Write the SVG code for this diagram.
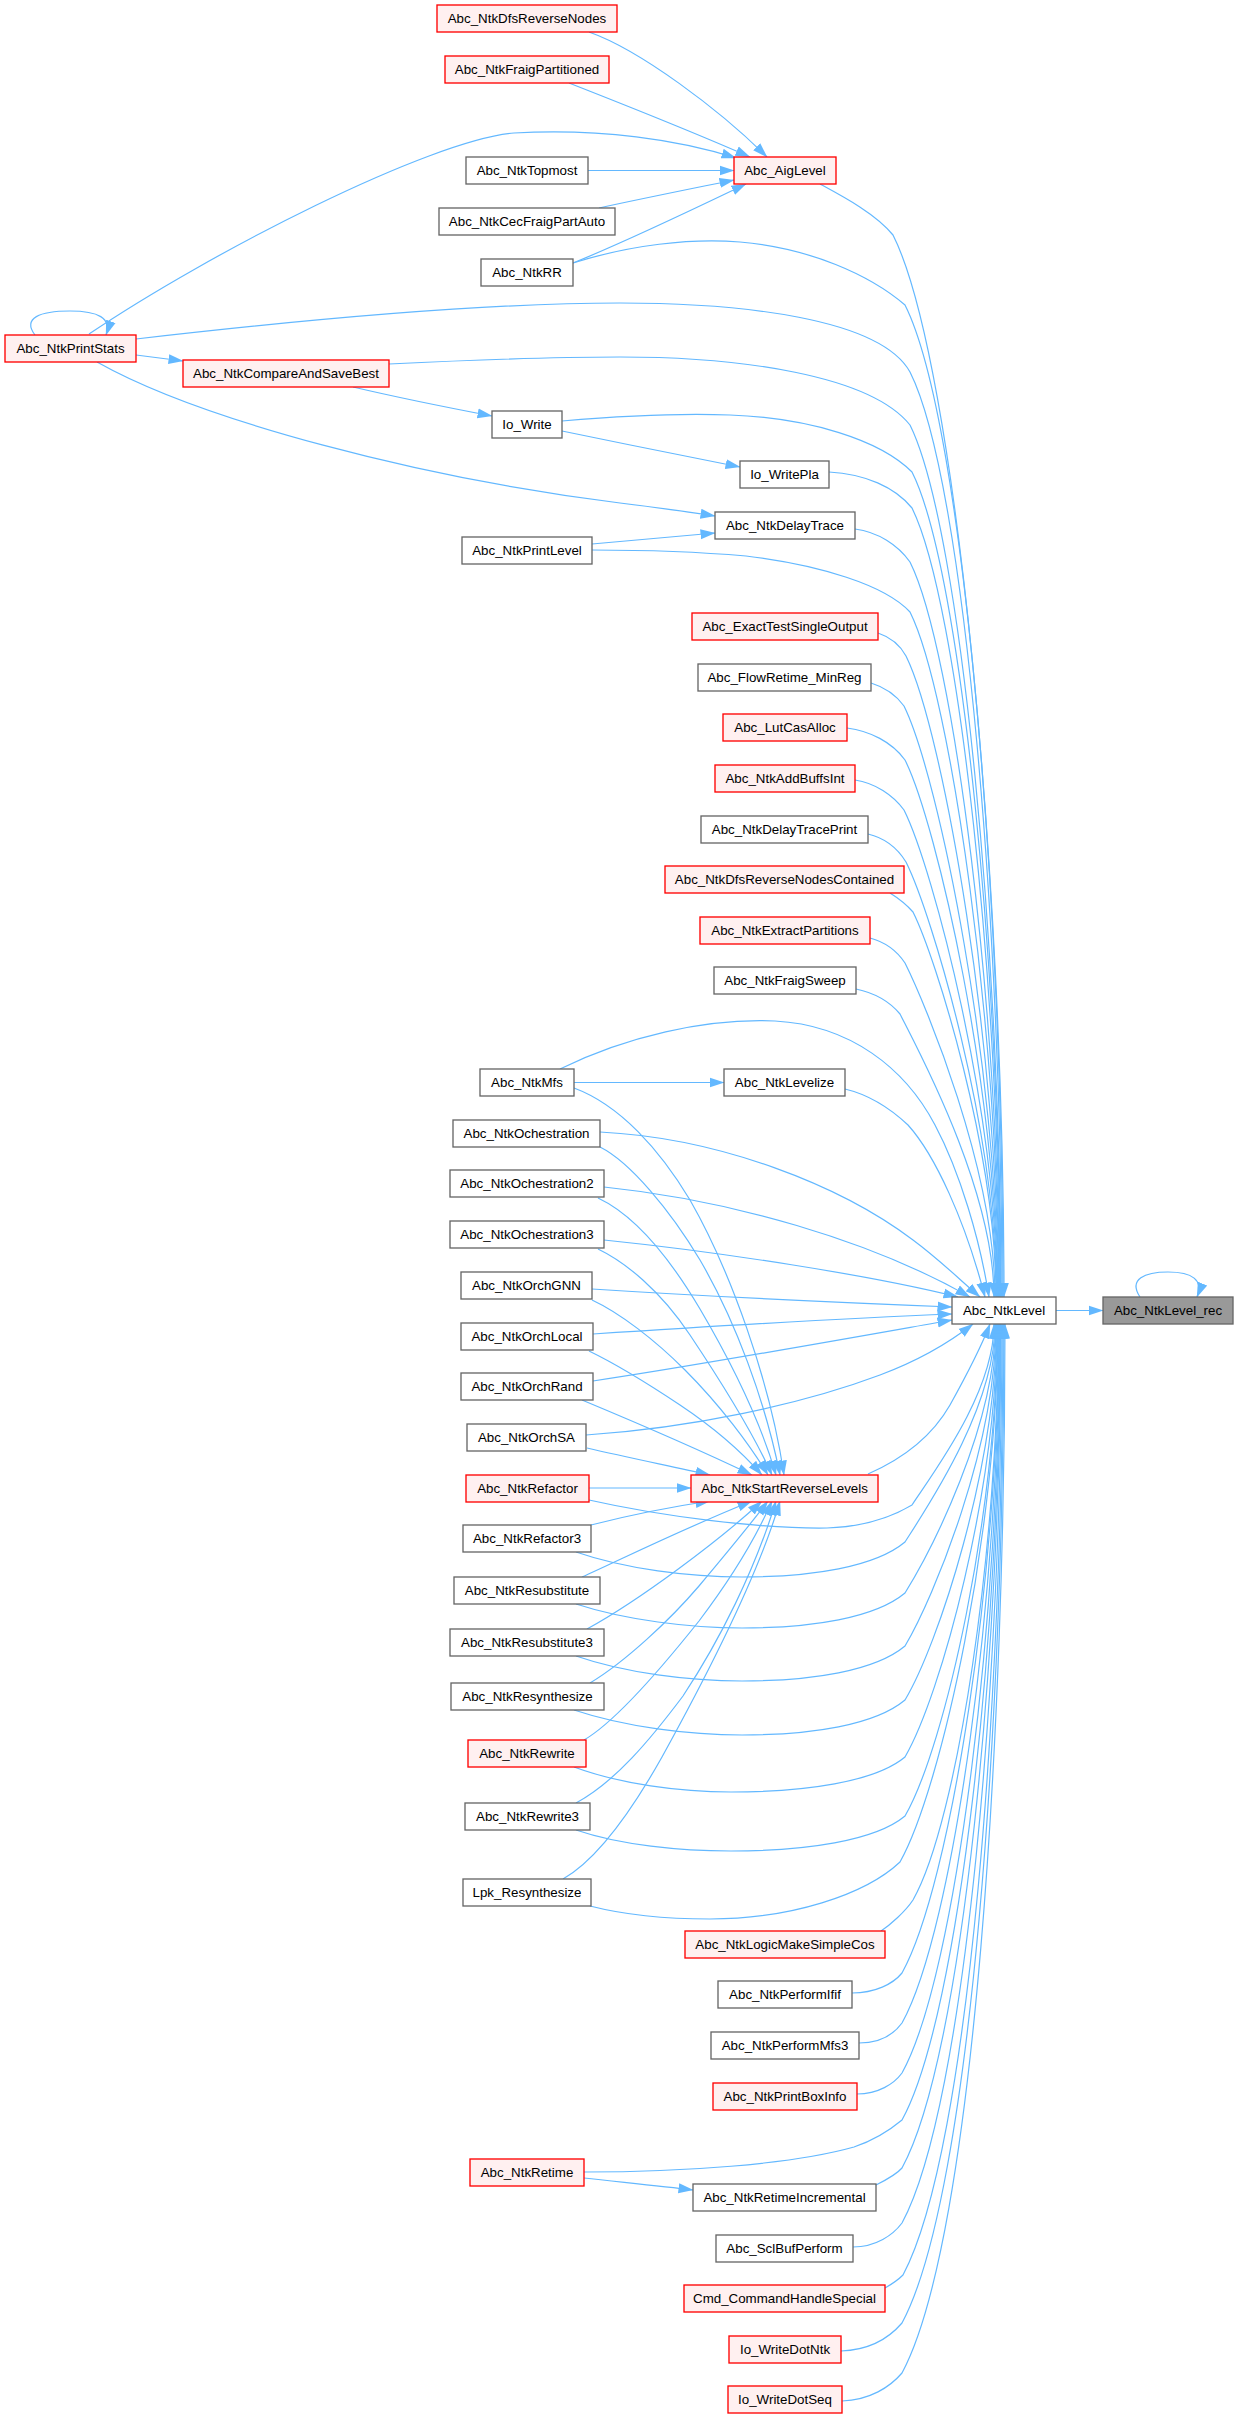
<svg xmlns="http://www.w3.org/2000/svg" width="1238" height="2419" viewBox="0 0 1238 2419">
<defs>
<style>
.r{fill:#fff0f0;stroke:#ff0000;stroke-width:1.33}
.g{fill:#ffffff;stroke:#666666;stroke-width:1.33}
.k{fill:#999999;stroke:#666666;stroke-width:1.33}
text{font-family:"Liberation Sans",Arial,Helvetica,sans-serif;font-size:13.33px;fill:#000;text-anchor:middle}
#edges path{fill:none;stroke:#63b8ff;stroke-width:1.2;marker-end:url(#ah)}
</style>
<marker id="ah" viewBox="0 0 15 11" markerWidth="15" markerHeight="11" refX="14.5" refY="5.5" orient="auto" markerUnits="userSpaceOnUse">
<path d="M0,0.5 L15,5.5 L0,10.5 z" fill="#63b8ff" stroke="none"/>
</marker>
</defs>
<rect x="0" y="0" width="1238" height="2419" fill="#ffffff"/>
<g id="edges">
<path d="M1056,1310.5 L1103,1310.5"/>
<path d="M1140,1297 C1128,1279 1145,1272 1168,1272 C1192,1272 1204,1280 1197,1297"/>
<path d="M820,184 C844,197 876,214 893,235 C957,362 1004,893 1004,1297"/>
<path d="M589,32 C640,50 720,110 767,157"/>
<path d="M569,83 C620,103 700,135 750,157"/>
<path d="M89,334 C209,253 430,140 514,133 C600,128 680,140 736,158"/>
<path d="M35,335 C22,318 40,311 70,311 C98,311 112,318 106,335"/>
<path d="M588,170.5 L734,170.5"/>
<path d="M599,208 C640,199 690,189 734,180"/>
<path d="M573,263 C630,240 700,206 746,184"/>
<path d="M573,263 C630,245 690,238 740,242 C810,248 870,275 905,305 C965,424 1003,920 1003,1297"/>
<path d="M136,339 C300,320 480,303 620,303 C740,303 880,318 910,372 C966,483 1002,946 1002,1297"/>
<path d="M389,364 C470,360 550,357 620,357 C740,357 870,375 910,425 C962,530 1001,966 1001,1297"/>
<path d="M353,387 C400,398 450,408 492,416"/>
<path d="M136,355 L183,361"/>
<path d="M562,421 C620,416 680,413 730,415 C810,418 880,440 912,472 C962,571 1000.5,984 1000.5,1297"/>
<path d="M562,431 C620,443 690,457 740,467"/>
<path d="M97,362 C200,420 420,478 620,503 C660,508 690,512 715,516"/>
<path d="M592,544 C640,540 680,536 715,533"/>
<path d="M592,550 C650,550 700,552 746,556 C820,565 885,585 910,612 C951,694 999,1037 999,1297"/>
<path d="M829,472 C865,474 895,487 912,508 C959,603 1000,997 1000,1297"/>
<path d="M855,529 C878,532 898,545 910,562 C954,650 999.5,1018 999.5,1297"/>
<path d="M878,633 C890,637 900,645 906,656 C944,733 998.5,1053 998.5,1297"/>
<path d="M871,683 C884,687 896,695 904,706 C939,777 998,1072 998,1297"/>
<path d="M847,728 C870,731 892,742 905,760 C937,824 997.5,1093 997.5,1297"/>
<path d="M855,780 C875,783 893,795 904,810 C933,868 997,1112 997,1297"/>
<path d="M868,834 C885,838 898,849 906,862 C932,914 996.5,1132 996.5,1297"/>
<path d="M890,893 C898,898 906,904 913,912 C936,958 996,1151 996,1297"/>
<path d="M870,938 C885,942 897,951 905,963 C925,1003 995,1170 995,1297"/>
<path d="M856,989 C875,993 890,1002 900,1014 C917,1048 994,1189 994,1297"/>
<path d="M560,1069 C625,1037 705,1018 775,1021 C850,1025 905,1068 935,1125 C960,1172 980,1240 989,1297"/>
<path d="M574,1082.5 L724,1082.5"/>
<path d="M845,1089 C870,1095 892,1110 908,1125 C935,1155 965,1220 985,1297"/>
<path d="M600,1132 C720,1138 840,1185 913,1240 C940,1260 960,1280 980,1297"/>
<path d="M604,1187 C730,1200 870,1240 970,1297"/>
<path d="M604,1240 C720,1252 870,1275 958,1297"/>
<path d="M592,1289 C700,1296 850,1303 952,1307"/>
<path d="M593,1334 C700,1327 850,1318 952,1314"/>
<path d="M593,1381 C700,1365 850,1338 952,1320"/>
<path d="M586,1435 C690,1428 800,1405 880,1375 C920,1360 950,1342 973,1324"/>
<path d="M868,1474 C900,1460 930,1440 950,1405 C965,1378 980,1350 990,1324"/>
<path d="M574,1088 C620,1105 660,1150 690,1200 C730,1270 770,1380 784,1475"/>
<path d="M600,1147 C630,1162 670,1210 700,1260 C735,1320 765,1400 780,1475"/>
<path d="M598,1198 C630,1213 665,1250 700,1309 C730,1360 760,1420 776,1475"/>
<path d="M598,1249 C625,1262 660,1290 690,1335 C720,1380 752,1430 772,1475"/>
<path d="M592,1300 C620,1313 655,1340 685,1370 C720,1405 750,1445 768,1475"/>
<path d="M589,1351 C620,1366 650,1385 680,1405 C710,1425 740,1450 762,1475"/>
<path d="M582,1400 C630,1420 700,1450 752,1475"/>
<path d="M587,1448 C630,1458 670,1466 710,1475"/>
<path d="M589,1488 L691,1488"/>
<path d="M591,1525 C630,1515 670,1507 710,1501"/>
<path d="M582,1577 C620,1560 680,1530 752,1501"/>
<path d="M587,1629 C640,1600 720,1540 762,1501"/>
<path d="M590,1683 C625,1662 670,1620 699,1586 C725,1555 750,1525 768,1501"/>
<path d="M584,1740 C615,1722 660,1670 699,1621 C730,1580 755,1540 772,1501"/>
<path d="M576,1803 C615,1782 650,1740 683,1696 C720,1640 755,1570 776,1501"/>
<path d="M563,1879 C600,1858 635,1805 662,1757 C710,1670 760,1570 780,1501"/>
<path d="M589,1500 C660,1516 760,1529 827,1528 C860,1527 890,1518 912,1505 C933,1473 994,1393 994,1324"/>
<path d="M576,1552 C625,1569 690,1577 742,1577 C812,1577 875,1567 905,1542 C928,1506 995,1407 995,1324"/>
<path d="M576,1604 C625,1620 690,1628 742,1628 C812,1628 875,1618 905,1593 C931,1551 995.5,1426 995.5,1324"/>
<path d="M576,1656 C625,1673 690,1681 742,1681 C812,1681 875,1671 905,1646 C934,1597 996,1446 996,1324"/>
<path d="M574,1710 C625,1727 690,1735 742,1735 C812,1735 875,1725 905,1700 C938,1645 996.5,1467 996.5,1324"/>
<path d="M574,1767 C620,1784 680,1792 731,1792 C805,1792 875,1782 905,1757 C941,1695 997,1489 997,1324"/>
<path d="M576,1830 C620,1845 680,1851 731,1851 C805,1851 875,1841 905,1816 C945,1747 997.5,1511 997.5,1324"/>
<path d="M590,1906 C625,1915 670,1919 710,1919 C790,1919 865,1895 900,1862 C942,1787 998,1528 998,1324"/>
<path d="M881,1931 C890,1925 905,1912 913,1900 C958,1821 998.5,1543 998.5,1324"/>
<path d="M852,1993 C875,1993 893,1984 902,1973 C951,1885 999,1571 999,1324"/>
<path d="M859,2043 C880,2043 894,2034 902,2023 C954,1929 999.5,1590 999.5,1324"/>
<path d="M857,2094 C878,2094 894,2084 902,2073 C957,1974 1000,1609 1000,1324"/>
<path d="M584,2172 C680,2172 790,2165 854,2147 C875,2140 890,2130 902,2120 C960,2015 1000.5,1626 1000.5,1324"/>
<path d="M584,2178 C620,2182 660,2186 693,2190"/>
<path d="M876,2185 C886,2180 896,2175 902,2168 C963,2057 1001,1645 1001,1324"/>
<path d="M853,2247 C876,2247 893,2235 902,2223 C966,2105 1002,1666 1002,1324"/>
<path d="M885,2288 C892,2284 898,2280 903,2275 C970,2150 1003,1685 1003,1324"/>
<path d="M841,2351 C870,2350 890,2337 902,2323 C972,2193 1004,1704 1004,1324"/>
<path d="M842,2401 C870,2400 890,2387 902,2373 C975,2237 1005,1723 1005,1324"/>
</g>
<g id="n_level_rec"><rect class="k" x="1103" y="1297" width="130" height="27"/><text x="1168" y="1315">Abc_NtkLevel_rec</text></g>
<g id="n_level"><rect class="g" x="952" y="1297" width="104" height="27"/><text x="1004" y="1315">Abc_NtkLevel</text></g>
<g id="n_aiglevel"><rect class="r" x="734" y="157" width="102" height="27"/><text x="785" y="175">Abc_AigLevel</text></g>
<g id="n_dfsrev"><rect class="r" x="437" y="5" width="180" height="27"/><text x="527" y="23">Abc_NtkDfsReverseNodes</text></g>
<g id="n_fraigpart"><rect class="r" x="445" y="56" width="164" height="27"/><text x="527" y="74">Abc_NtkFraigPartitioned</text></g>
<g id="n_topmost"><rect class="g" x="466" y="157" width="122" height="27"/><text x="527" y="175">Abc_NtkTopmost</text></g>
<g id="n_cec"><rect class="g" x="439" y="208" width="176" height="27"/><text x="527" y="226">Abc_NtkCecFraigPartAuto</text></g>
<g id="n_rr"><rect class="g" x="481" y="259" width="92" height="27"/><text x="527" y="277">Abc_NtkRR</text></g>
<g id="n_printstats"><rect class="r" x="5" y="335" width="131" height="27"/><text x="70.5" y="353">Abc_NtkPrintStats</text></g>
<g id="n_compare"><rect class="r" x="183" y="360" width="206" height="27"/><text x="286" y="378">Abc_NtkCompareAndSaveBest</text></g>
<g id="n_iowrite"><rect class="g" x="492" y="411" width="70" height="27"/><text x="527" y="429">Io_Write</text></g>
<g id="n_iowritepla"><rect class="g" x="740" y="461" width="89" height="27"/><text x="784.5" y="479">Io_WritePla</text></g>
<g id="n_delaytrace"><rect class="g" x="715" y="512" width="140" height="27"/><text x="785" y="530">Abc_NtkDelayTrace</text></g>
<g id="n_printlevel"><rect class="g" x="462" y="537" width="130" height="27"/><text x="527" y="555">Abc_NtkPrintLevel</text></g>
<g id="n_exact"><rect class="r" x="692" y="613" width="186" height="27"/><text x="785" y="631">Abc_ExactTestSingleOutput</text></g>
<g id="n_flowretime"><rect class="g" x="698" y="664" width="173" height="27"/><text x="784.5" y="682">Abc_FlowRetime_MinReg</text></g>
<g id="n_lutcas"><rect class="r" x="723" y="714" width="124" height="27"/><text x="785" y="732">Abc_LutCasAlloc</text></g>
<g id="n_addbuffs"><rect class="r" x="715" y="765" width="140" height="27"/><text x="785" y="783">Abc_NtkAddBuffsInt</text></g>
<g id="n_delaytraceprint"><rect class="g" x="701" y="816" width="167" height="27"/><text x="784.5" y="834">Abc_NtkDelayTracePrint</text></g>
<g id="n_dfsrevcont"><rect class="r" x="665" y="866" width="239" height="27"/><text x="784.5" y="884">Abc_NtkDfsReverseNodesContained</text></g>
<g id="n_extract"><rect class="r" x="700" y="917" width="170" height="27"/><text x="785" y="935">Abc_NtkExtractPartitions</text></g>
<g id="n_fraigsweep"><rect class="g" x="714" y="967" width="142" height="27"/><text x="785" y="985">Abc_NtkFraigSweep</text></g>
<g id="n_mfs"><rect class="g" x="480" y="1069" width="94" height="27"/><text x="527" y="1087">Abc_NtkMfs</text></g>
<g id="n_levelize"><rect class="g" x="724" y="1069" width="121" height="27"/><text x="784.5" y="1087">Abc_NtkLevelize</text></g>
<g id="n_och"><rect class="g" x="453" y="1120" width="147" height="27"/><text x="526.5" y="1138">Abc_NtkOchestration</text></g>
<g id="n_och2"><rect class="g" x="450" y="1170" width="154" height="27"/><text x="527" y="1188">Abc_NtkOchestration2</text></g>
<g id="n_och3"><rect class="g" x="450" y="1221" width="154" height="27"/><text x="527" y="1239">Abc_NtkOchestration3</text></g>
<g id="n_gnn"><rect class="g" x="461" y="1272" width="131" height="27"/><text x="526.5" y="1290">Abc_NtkOrchGNN</text></g>
<g id="n_local"><rect class="g" x="461" y="1323" width="132" height="27"/><text x="527" y="1341">Abc_NtkOrchLocal</text></g>
<g id="n_rand"><rect class="g" x="461" y="1373" width="132" height="27"/><text x="527" y="1391">Abc_NtkOrchRand</text></g>
<g id="n_sa"><rect class="g" x="467" y="1424" width="119" height="27"/><text x="526.5" y="1442">Abc_NtkOrchSA</text></g>
<g id="n_refactor"><rect class="r" x="466" y="1475" width="123" height="27"/><text x="527.5" y="1493">Abc_NtkRefactor</text></g>
<g id="n_startrev"><rect class="r" x="691" y="1475" width="187" height="27"/><text x="784.5" y="1493">Abc_NtkStartReverseLevels</text></g>
<g id="n_refactor3"><rect class="g" x="463" y="1525" width="128" height="27"/><text x="527" y="1543">Abc_NtkRefactor3</text></g>
<g id="n_resub"><rect class="g" x="454" y="1577" width="146" height="27"/><text x="527" y="1595">Abc_NtkResubstitute</text></g>
<g id="n_resub3"><rect class="g" x="450" y="1629" width="154" height="27"/><text x="527" y="1647">Abc_NtkResubstitute3</text></g>
<g id="n_resynth"><rect class="g" x="451" y="1683" width="153" height="27"/><text x="527.5" y="1701">Abc_NtkResynthesize</text></g>
<g id="n_rewrite"><rect class="r" x="468" y="1740" width="118" height="27"/><text x="527" y="1758">Abc_NtkRewrite</text></g>
<g id="n_rewrite3"><rect class="g" x="465" y="1803" width="125" height="27"/><text x="527.5" y="1821">Abc_NtkRewrite3</text></g>
<g id="n_lpk"><rect class="g" x="463" y="1879" width="128" height="27"/><text x="527" y="1897">Lpk_Resynthesize</text></g>
<g id="n_logicmake"><rect class="r" x="685" y="1931" width="200" height="27"/><text x="785" y="1949">Abc_NtkLogicMakeSimpleCos</text></g>
<g id="n_ifif"><rect class="g" x="718" y="1981" width="134" height="27"/><text x="785" y="1999">Abc_NtkPerformIfif</text></g>
<g id="n_mfs3"><rect class="g" x="711" y="2032" width="148" height="27"/><text x="785" y="2050">Abc_NtkPerformMfs3</text></g>
<g id="n_boxinfo"><rect class="r" x="713" y="2083" width="144" height="27"/><text x="785" y="2101">Abc_NtkPrintBoxInfo</text></g>
<g id="n_retime"><rect class="r" x="470" y="2159" width="114" height="27"/><text x="527" y="2177">Abc_NtkRetime</text></g>
<g id="n_retimeinc"><rect class="g" x="693" y="2184" width="183" height="27"/><text x="784.5" y="2202">Abc_NtkRetimeIncremental</text></g>
<g id="n_sclbuf"><rect class="g" x="716" y="2235" width="137" height="27"/><text x="784.5" y="2253">Abc_SclBufPerform</text></g>
<g id="n_cmd"><rect class="r" x="684" y="2285" width="201" height="27"/><text x="784.5" y="2303">Cmd_CommandHandleSpecial</text></g>
<g id="n_dotntk"><rect class="r" x="729" y="2336" width="112" height="27"/><text x="785" y="2354">Io_WriteDotNtk</text></g>
<g id="n_dotseq"><rect class="r" x="728" y="2386" width="114" height="27"/><text x="785" y="2404">Io_WriteDotSeq</text></g>
</svg>
